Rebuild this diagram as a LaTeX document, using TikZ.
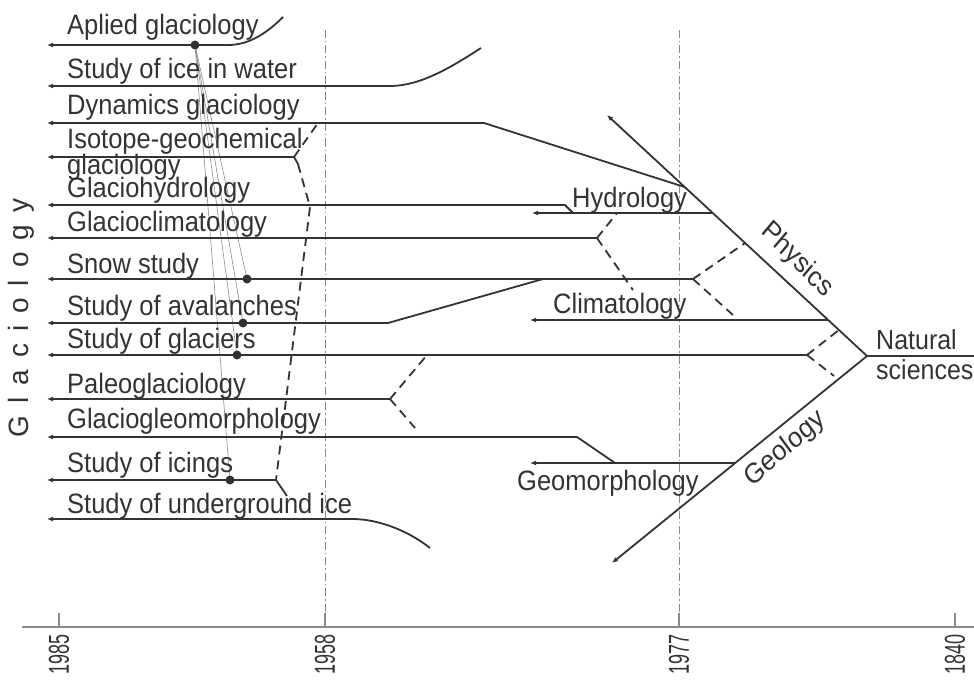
\documentclass[tikz,border=0pt]{standalone}
\usepackage{fontspec}
\setmainfont{Liberation Sans}
\usepackage{xcolor}
\usepackage{tikz}
\usetikzlibrary{arrows.meta, calc}

\definecolor{inkgray}{HTML}{333333}
\definecolor{guidegray}{HTML}{8A8A8A}
\definecolor{hairgray}{HTML}{8C8C8C}

\tikzset{
  branch/.style={line width=1.8pt, draw=inkgray, -{Latex[length=6pt,width=5pt]}},
  link/.style={line width=1.8pt, draw=inkgray},
  influence/.style={line width=1.8pt, draw=inkgray, dash pattern=on 9pt off 6pt},
  epoch/.style={line width=0.8pt, draw=guidegray, dash pattern=on 8pt off 3pt on 1.5pt off 3pt},
  hair/.style={line width=0.6pt, draw=hairgray},
  knot/.style={circle, fill=inkgray, inner sep=0pt, minimum size=9pt},
  lbl/.style={anchor=base west, inner sep=0pt, text=inkgray, font=\fontsize{25.5}{24}\selectfont, yscale=1.1},
  yearlbl/.style={rotate=90, anchor=east, inner sep=0pt, text=inkgray, font=\fontsize{18}{18}\selectfont, yscale=1.6},
}

\begin{document}
\begin{tikzpicture}[x=1pt, y=-1pt]
        \useasboundingbox (0,0) rectangle (974,682);

        % Natural sciences root
        \coordinate (nat) at (867,356);
        \coordinate (phys-end) at (607,115);
        \coordinate (geo-end) at (612,563);
        \coordinate (nat-out) at (974,356);

        % Time axis and epochs
        \coordinate (ax-l) at (22,627);
        \coordinate (ax-r) at (974,627);
        \coordinate (e58-top) at (325,30);
        \coordinate (e58-bot) at (325,627);
        \coordinate (e77-top) at (679,30);
        \coordinate (e77-bot) at (679,627);
        \draw[epoch] (e58-top) -- (e58-bot);
        \draw[epoch] (e77-top) -- (e77-bot);
        \draw[line width=1.2pt, draw=guidegray] (ax-l) -- (ax-r);
        \foreach \x/\yr in {59/1985, 325/1958, 679/1977, 955/1840} {
          \draw[line width=1.2pt, draw=guidegray] (\x,613) -- (\x,627);
          \node[yearlbl] (yr-\yr) at (\x,634) {\yr};
        }

        % Branch points
        \coordinate (apl-l) at (47,45);   \coordinate (apl-k) at (228,45);  \coordinate (apl-e) at (283,17);
        \coordinate (iw-l) at (47,86);    \coordinate (iw-k) at (390,86);   \coordinate (iw-e) at (481,48);
        \coordinate (dyn-l) at (47,123);  \coordinate (dyn-k) at (484,123); \coordinate (dyn-x) at (318,123);
        \coordinate (dyn-p) at ($(nat)!0.701!(phys-end)$);
        \coordinate (iso-l) at (47,157);  \coordinate (iso-k) at (294,157); \coordinate (iso-h) at (298,164);
        \coordinate (gh-l) at (47,205);   \coordinate (gh-k) at (565,205);  \coordinate (gh-j) at (573,213);
        \coordinate (gh-x) at (310,207);
        \coordinate (hyd-l) at (532,213); \coordinate (hyd-p) at ($(nat)!0.5934!(phys-end)$);
        \coordinate (gc-l) at (47,238);   \coordinate (gc-k) at (597,238);  \coordinate (gc-u) at (617,213);
        \coordinate (gc-d) at (633,290);
        \coordinate (sn-l) at (47,279);   \coordinate (sn-k) at (693,279);  \coordinate (sn-d) at (733,315);
        \coordinate (sn-u) at ($(nat)!0.4689!(phys-end)$);
        \coordinate (cl-l) at (530,320);  \coordinate (cl-p) at ($(nat)!0.1494!(phys-end)$);
        \coordinate (av-l) at (47,323);   \coordinate (av-k) at (388,323);  \coordinate (av-j) at (543,279);
        \coordinate (gl-l) at (47,355);   \coordinate (gl-k) at (807,355);  \coordinate (gl-d) at (834,376);
        \coordinate (gl-u) at ($(nat)!0.1079!(phys-end)$);
        \coordinate (pal-l) at (47,399);  \coordinate (pal-k) at (390,399); \coordinate (pal-u) at (427,355);
        \coordinate (pal-d) at (415,428);
        \coordinate (gg-l) at (47,437);   \coordinate (gg-k) at (577,437);  \coordinate (gg-j) at (615,463);
        \coordinate (gm-l) at (530,463);  \coordinate (gm-g) at ($(nat)!0.5169!(geo-end)$);
        \coordinate (ic-l) at (47,480);   \coordinate (ic-k) at (276,480);  \coordinate (ic-j) at (287,496);
        \coordinate (ug-l) at (47,519);   \coordinate (ug-k) at (352,519);  \coordinate (ug-e) at (430,548);

        % Dots on the branches
        \coordinate (k-apl) at (195,45);
        \coordinate (k-sn) at (247,279);
        \coordinate (k-av) at (243,323);
        \coordinate (k-gl) at (237,355);
        \coordinate (k-ic) at (230,480);

        % Thin links from applied glaciology
        \foreach \k in {sn, av, gl, ic}
          \draw[hair] (k-apl) -- (k-\k);

        % Main trunks
        \draw[branch] (nat) -- (phys-end);
        \draw[branch] (nat) -- (geo-end);
        \draw[link] (nat) -- (nat-out);
        \draw[branch] (hyd-p) -- (hyd-l);
        \draw[branch] (cl-p) -- (cl-l);
        \draw[branch] (gm-g) -- (gm-l);

        % Glaciology branches
        \draw[branch] (apl-e) .. controls (268,32) and (250,45) .. (apl-k) -- (apl-l);
        \draw[branch] (iw-e) .. controls (450,68) and (420,86) .. (iw-k) -- (iw-l);
        \draw[branch] (dyn-p) -- (dyn-k) -- (dyn-l);
        \draw[branch] (iso-h) -- (iso-k) -- (iso-l);
        \draw[branch] (gh-j) -- (gh-k) -- (gh-l);
        \draw[branch] (gc-k) -- (gc-l);
        \draw[branch] (sn-k) -- (sn-l);
        \draw[branch] (av-j) -- (av-k) -- (av-l);
        \draw[branch] (gl-k) -- (gl-l);
        \draw[branch] (pal-k) -- (pal-l);
        \draw[branch] (gg-j) -- (gg-k) -- (gg-l);
        \draw[branch] (ic-j) -- (ic-k) -- (ic-l);
        \draw[branch] (ug-e) .. controls (410,532) and (380,519) .. (ug-k) -- (ug-l);

        % Influences
        \draw[influence] (iso-k) -- (dyn-x);
        \draw[influence] (iso-h) -- (gh-x) -- (ic-k);
        \draw[influence] (gc-k) -- (gc-u);
        \draw[influence] (gc-k) -- (gc-d);
        \draw[influence] (sn-k) -- (sn-u);
        \draw[influence] (sn-k) -- (sn-d);
        \draw[influence] (gl-k) -- (gl-u);
        \draw[influence] (gl-k) -- (gl-d);
        \draw[influence] (pal-k) -- (pal-u);
        \draw[influence] (pal-k) -- (pal-d);

        \node[knot] (dot-apl) at (k-apl) {};
        \node[knot] (dot-sn) at (k-sn) {};
        \node[knot] (dot-av) at (k-av) {};
        \node[knot] (dot-gl) at (k-gl) {};
        \node[knot] (dot-ic) at (k-ic) {};

        % Labels
        \node[lbl] (t-apl) at (67,35) {Aplied glaciology};
        \node[lbl] (t-iw) at (67,79) {Study of ice in water};
        \node[lbl] (t-dyn) at (67,115) {Dynamics glaciology};
        \node[lbl, anchor=north west, align=left] (t-iso) at (67,128) {Isotope-geochemical\\glaciology};
        \node[lbl] (t-gh) at (67,197) {Glaciohydrology};
        \node[lbl] (t-gc) at (67,231) {Glacioclimatology};
        \node[lbl] (t-sn) at (67,273) {Snow study};
        \node[lbl] (t-av) at (67,315) {Study of avalanches};
        \node[lbl] (t-gl) at (67,348) {Study of glaciers};
        \node[lbl] (t-pal) at (67,393) {Paleoglaciology};
        \node[lbl] (t-gg) at (67,428) {Glaciogleomorphology};
        \node[lbl] (t-ic) at (67,472) {Study of icings};
        \node[lbl] (t-ug) at (67,513) {Study of underground ice};

        \node[lbl] (t-hyd) at (572,207) {Hydrology};
        \node[lbl] (t-cl) at (553,313) {Climatology};
        \node[lbl] (t-gm) at (517,490) {Geomorphology};
        \node[lbl, anchor=center, rotate=-43] (t-phys) at (797,260) {Physics};
        \node[lbl, anchor=center, rotate=39] (t-geo) at (785,449) {Geology};
        \node[lbl, anchor=north west, align=left, font=\fontsize{25}{28}\selectfont] (t-nat) at (876,329) {Natural\\sciences};

        \node[rotate=90, inner sep=0pt, text=inkgray, font=\fontsize{28}{28}\selectfont] (t-glac) at (21,318)
          {G\kern12pt l\kern12pt a\kern12pt c\kern12pt i\kern12pt o\kern12pt l\kern12pt o\kern12pt g\kern12pt y};
      \end{tikzpicture}
\end{document}
